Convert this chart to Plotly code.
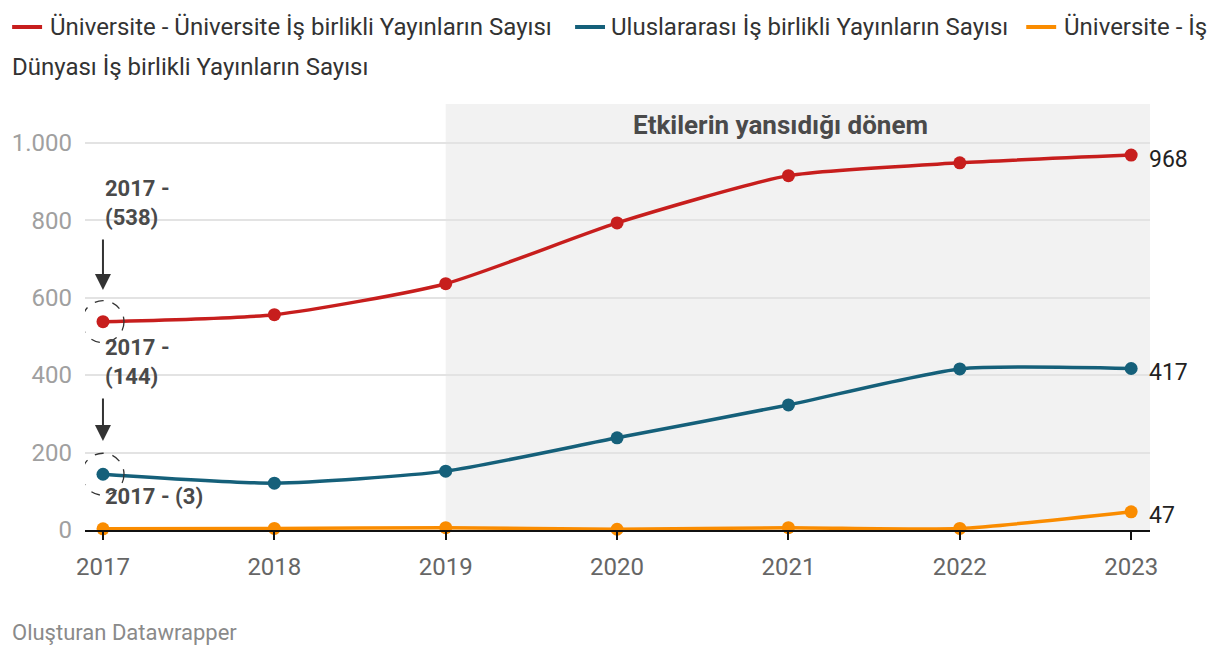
import plotly.graph_objects as go

years = [2017, 2018, 2019, 2020, 2021, 2022, 2023]
uni_uni = [538, 556, 636, 793, 915, 948, 968]
intl = [144, 121, 152, 238, 323, 416, 417]
uni_ind = [3, 4, 6, 2, 6, 4, 47]
series_names = [
    "Üniversite - Üniversite İş birlikli Yayınların Sayısı",
    "Uluslararası İş birlikli Yayınların Sayısı",
    "Üniversite - İş Dünyası İş birlikli Yayınların Sayısı",
]
colors = ["#c71e1d", "#15607a", "#fa8c00"]
shade_start = 2019
shade_label = "Etkilerin yansıdığı dönem"
footer = "Oluşturan Datawrapper"

W, H = 1220, 658
L, R, T, B = 83, 1150, 104, 530
YMAX = 1100


def px(x):
    return (x - L) / (R - L)


def py(y):
    return (B - y) / (B - T)


font = "Roboto"
fig = go.Figure()
for name, vals, c in zip(series_names, [uni_uni, intl, uni_ind], colors):
    fig.add_trace(go.Scatter(
        x=years, y=vals, name=name, mode="lines+markers",
        line=dict(color=c, width=3.5, shape="spline", smoothing=0.6),
        marker=dict(color=c, size=13), cliponaxis=False, showlegend=False,
    ))

shapes = []
annotations = []
# shaded period
shapes.append(dict(type="rect", xref="x", yref="y", x0=shade_start, x1=years[-1] + 0.11,
                   y0=0, y1=YMAX, fillcolor="#f2f2f2", line=dict(width=0), layer="below"))
annotations.append(dict(text="<b>" + shade_label + "</b>", xref="paper", yref="paper",
                        x=px(780), y=py(125), xanchor="center", yanchor="middle", showarrow=False,
                        font=dict(family=font, size=26, color="#4a4a4a")))

# custom legend
leg = [(10, 40, 46, 27, 0), (574, 604, 608, 27, 1), (1026, 1056, 1062, 27, 2)]
legend_texts = [series_names[0], series_names[1], "Üniversite - İş"]
for (x0, x1, tx, ty, i), txt in zip(leg, legend_texts):
    shapes.append(dict(type="line", xref="paper", yref="paper", x0=px(x0), x1=px(x1),
                       y0=py(ty), y1=py(ty), line=dict(color=colors[i], width=4)))
    annotations.append(dict(text=txt, xref="paper", yref="paper", x=px(tx), y=py(ty),
                            xanchor="left", yanchor="middle", showarrow=False,
                            font=dict(family=font, size=24, color="#333333")))
annotations.append(dict(text="Dünyası İş birlikli Yayınların Sayısı", xref="paper", yref="paper",
                        x=px(8), y=py(67), xanchor="left", yanchor="middle", showarrow=False,
                        font=dict(family=font, size=24, color="#333333")))

# end labels
for vals in [uni_uni, intl, uni_ind]:
    annotations.append(dict(text=str(vals[-1]), x=years[-1], y=vals[-1], xref="x", yref="y",
                            xanchor="left", yanchor="middle", xshift=16, yshift=-4, showarrow=False,
                            font=dict(family=font, size=23, color="#222222")))

# callouts
ann_font = dict(family=font, size=22, color="#4a4a4a")
callouts = [
    (uni_uni[0], f"<b>{years[0]} -<br>({uni_uni[0]})</b>", 203, True, 238, 290),
    (intl[0], f"<b>{years[0]} -<br>({intl[0]})</b>", 362, True, 397, 441),
    (uni_ind[0], f"<b>{years[0]} - ({uni_ind[0]})</b>", 496, False, None, None),
]
for val, txt, ty, arrow, a0, a1 in callouts:
    annotations.append(dict(text=txt, xref="paper", yref="paper", x=px(101), y=py(ty),
                            xanchor="left", yanchor="middle", align="left", showarrow=False,
                            font=ann_font))
    if arrow:
        annotations.append(dict(text="", xref="paper", yref="paper", x=px(101), y=py(a1),
                                ax=0, ay=-(a1 - a0), showarrow=True, arrowhead=2,
                                arrowsize=1.6, arrowwidth=2, arrowcolor="#333333"))
for val in [uni_uni[0], intl[0]]:
    shapes.append(dict(type="circle", xref="x", yref="y", xsizemode="pixel", ysizemode="pixel",
                       xanchor=years[0], yanchor=val, x0=-21, x1=21, y0=-21, y1=21,
                       line=dict(color="#333333", width=1.3, dash="dash")))

annotations.append(dict(text=footer, xref="paper", yref="paper", x=px(8), y=py(632),
                        xanchor="left", yanchor="middle", showarrow=False,
                        font=dict(family=font, size=22, color="#8a8a8a")))

fig.update_layout(
    width=W, height=H, margin=dict(l=L, r=W - R, t=T, b=H - B),
    paper_bgcolor="white", plot_bgcolor="white", separators=",.",
    font=dict(family=font, size=24, color="#333333"),
    shapes=shapes, annotations=annotations, showlegend=False,
    xaxis=dict(range=[years[0] - 0.105, years[-1] + 0.11], tickvals=years, showgrid=False,
               showline=True, linecolor="#111111", linewidth=2, ticks="outside",
               ticklen=8, tickwidth=2, tickcolor="#111111", ticklabelstandoff=6,
               tickfont=dict(family=font, size=24, color="#666666"), zeroline=False),
    yaxis=dict(range=[0, YMAX], tickvals=[0, 200, 400, 600, 800, 1000], tickformat=",",
               showgrid=True, gridcolor="#e3e3e3", gridwidth=1.5, zeroline=False,
               ticks="", ticklabelstandoff=12,
               tickfont=dict(family=font, size=24, color="#a0a0a0")),
)
fig.write_html("out.html")
